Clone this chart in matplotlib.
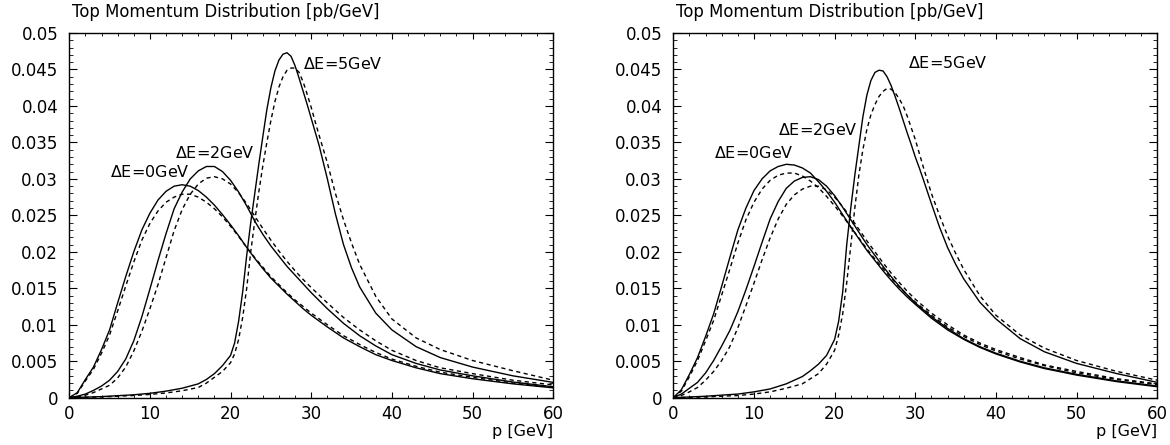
import numpy as np
import matplotlib
import matplotlib.pyplot as plt
from matplotlib.ticker import MultipleLocator, FuncFormatter

matplotlib.use("Agg")

plt.rcParams["font.family"] = ["DejaVu Sans"]

# momentum grids [GeV]
p_a = [0, 1, 2, 3, 4, 5, 6, 7, 8, 9, 10, 11, 12, 13, 14, 15, 16, 17, 18, 19, 20,
       21, 22, 23, 24, 25, 26, 27, 28, 29, 30, 32, 34, 36, 38, 40, 43, 46, 50, 55, 60]
p_b = [0, 4, 8, 10, 12, 14, 16, 17, 18, 19, 20, 20.5, 21, 21.5, 22, 22.5, 23, 23.5,
       24, 24.5, 25, 25.5, 26, 26.5, 27, 27.5, 28, 28.5, 29, 29.5, 30, 30.5, 31, 32,
       33, 34, 35, 36, 38, 40, 43, 46, 50, 55, 60]

# left panel, values in 1e-3 pb/GeV (solid / dashed)
left_de0_solid = [0, 0.7, 2.5, 4.2, 6.6, 9.3, 13.0, 16.6, 20.0, 23.0, 25.3, 27.1, 28.3, 29.0,
                  29.2, 29.0, 28.4, 27.5, 26.4, 25.1, 23.7, 22.2, 20.6, 19.1, 17.7, 16.4,
                  15.3, 14.2, 13.2, 12.2, 11.3, 9.7, 8.2, 7.0, 5.9, 5.1, 4.1, 3.3, 2.6, 1.9, 1.35]
left_de0_dash = [0, 0.6, 2.3, 3.9, 6.1, 8.6, 11.9, 15.3, 18.6, 21.6, 23.9, 25.6, 26.8, 27.5,
                 27.9, 27.9, 27.5, 26.8, 25.9, 24.8, 23.5, 22.1, 20.6, 19.2, 17.9, 16.6,
                 15.5, 14.4, 13.4, 12.5, 11.6, 10.0, 8.5, 7.3, 6.2, 5.3, 4.3, 3.5, 2.8, 2.0, 1.45]
left_de2_solid = [0, 0.2, 0.5, 1.0, 1.6, 2.4, 3.6, 5.3, 7.8, 11.1, 14.9, 18.8, 22.5, 25.9,
                  28.2, 30.0, 31.1, 31.7, 31.7, 31.0, 29.8, 28.2, 26.3, 24.2, 22.4, 20.8,
                  19.4, 18.0, 16.8, 15.6, 14.4, 12.2, 10.2, 8.5, 7.1, 5.9, 4.7, 3.8, 3.0, 2.15, 1.5]
left_de2_dash = [0, 0.1, 0.35, 0.7, 1.2, 1.7, 2.7, 4.2, 6.4, 9.1, 12.2, 15.5, 19.2, 22.9,
                 25.8, 27.9, 29.3, 30.1, 30.3, 30.0, 29.3, 28.1, 26.6, 24.9, 23.2, 21.6,
                 20.1, 18.7, 17.4, 16.2, 15.1, 13.0, 11.0, 9.3, 7.8, 6.5, 5.1, 4.1, 3.3, 2.4, 1.75]
left_de5_solid = [0, 0.15, 0.4, 0.6, 0.9, 1.3, 1.9, 2.5, 3.3, 4.4, 5.8, 7.5, 10.5, 14.5,
                  19.5, 24.0, 28.0, 32.0, 35.8, 39.5, 42.5, 44.8, 46.3, 47.1, 47.3, 46.8,
                  45.5, 43.8, 42.0, 40.2, 38.3, 36.4, 34.5, 30.0, 25.2, 21.0, 17.8, 15.2,
                  11.6, 9.3, 7.0, 5.5, 4.2, 3.0, 2.1]
left_de5_dash = [0, 0.1, 0.3, 0.45, 0.65, 0.95, 1.4, 2.0, 2.8, 3.6, 4.8, 6.0, 8.0, 11.0,
                 15.0, 20.0, 24.2, 28.2, 31.8, 35.0, 38.0, 40.6, 42.6, 44.0, 44.9, 45.2,
                 45.2, 44.6, 43.3, 41.6, 39.8, 37.8, 35.9, 32.2, 28.0, 24.4, 21.2, 18.3,
                 13.9, 10.8, 8.2, 6.6, 5.1, 3.7, 2.4]

# right panel
right_de0_solid = [0, 1.1, 3.2, 5.5, 8.4, 11.5, 15.3, 19.2, 23.0, 26.0, 28.4, 30.0, 31.1, 31.7,
                   32.0, 31.9, 31.5, 30.8, 29.6, 28.3, 26.8, 25.1, 23.4, 21.8, 20.2, 18.8,
                   17.4, 16.1, 14.9, 13.8, 12.8, 10.9, 9.3, 8.0, 6.9, 6.0, 4.9, 4.0, 3.1, 2.2, 1.5]
right_de0_dash = [0, 0.9, 2.9, 5.1, 7.8, 10.6, 14.1, 17.6, 21.2, 24.4, 26.8, 28.6, 29.8, 30.5,
                  30.8, 30.8, 30.4, 29.7, 28.8, 27.6, 26.3, 24.9, 23.4, 21.9, 20.4, 19.0,
                  17.7, 16.4, 15.2, 14.1, 13.1, 11.3, 9.7, 8.4, 7.3, 6.4, 5.3, 4.4, 3.4, 2.5, 1.8]
right_de2_solid = [0, 0.5, 1.3, 2.1, 3.4, 5.1, 7.1, 9.2, 11.8, 14.8, 18.0, 21.3, 24.5, 26.9,
                   28.7, 29.7, 30.2, 30.3, 29.9, 29.0, 27.7, 26.1, 24.4, 22.7, 21.0, 19.5,
                   18.0, 16.6, 15.3, 14.1, 13.0, 11.1, 9.5, 8.1, 7.0, 6.1, 5.0, 4.1, 3.2, 2.3, 1.6]
right_de2_dash = [0, 0.3, 0.8, 1.4, 2.4, 3.6, 5.1, 7.0, 9.6, 12.6, 15.7, 18.9, 21.9, 24.5,
                  26.5, 27.8, 28.6, 29.0, 29.0, 28.5, 27.5, 26.2, 24.7, 23.1, 21.5, 20.0,
                  18.5, 17.1, 15.8, 14.6, 13.5, 11.6, 10.0, 8.6, 7.5, 6.6, 5.5, 4.5, 3.6, 2.6, 1.9]
right_de5_solid = [0, 0.2, 0.5, 0.8, 1.2, 1.9, 2.9, 3.7, 4.6, 5.8, 8.0, 10.5, 14.5, 21.0,
                   26.0, 30.5, 34.5, 38.5, 41.5, 43.5, 44.6, 44.9, 44.8, 44.0, 42.8, 41.3,
                   39.7, 38.0, 36.3, 34.7, 33.0, 31.5, 29.9, 26.6, 23.4, 20.6, 18.3, 16.3,
                   13.1, 10.8, 8.1, 6.3, 4.7, 3.3, 2.1]
right_de5_dash = [0, 0.1, 0.3, 0.5, 0.8, 1.3, 1.9, 2.6, 3.3, 4.6, 6.5, 8.6, 11.5, 15.8,
                  20.8, 26.0, 30.5, 34.0, 36.8, 38.8, 40.2, 41.3, 42.0, 42.4, 42.3, 41.8,
                  41.0, 40.0, 38.6, 37.0, 35.4, 33.5, 31.6, 28.0, 25.0, 22.2, 19.8, 17.6,
                  14.0, 11.3, 8.6, 6.8, 5.1, 3.6, 2.4]

labels = ["$\\Delta$E=0GeV", "$\\Delta$E=2GeV", "$\\Delta$E=5GeV"]
left_label_pos = [(5.0, 0.0310), (13.1, 0.0336), (29.0, 0.0458)]
right_label_pos = [(5.0, 0.0335), (13.0, 0.0367), (29.05, 0.0459)]

panels = [
    ([(p_a, left_de0_solid, left_de0_dash), (p_a, left_de2_solid, left_de2_dash),
      (p_b, left_de5_solid, left_de5_dash)], left_label_pos, 0.0592),
    ([(p_a, right_de0_solid, right_de0_dash), (p_a, right_de2_solid, right_de2_dash),
      (p_b, right_de5_solid, right_de5_dash)], right_label_pos, 0.5755),
]

fig = plt.figure(figsize=(11.7, 4.45), dpi=100)

for curves, label_pos, x0 in panels:
    ax = fig.add_axes([x0, 0.1063, 0.4136, 0.8195])
    for p, solid, dash in curves:
        ax.plot(p, np.array(solid) * 1e-3, color="black", lw=1.0)
        ax.plot(p, np.array(dash) * 1e-3, color="black", lw=1.0, linestyle=(0, (3, 2.5)))
    for text, (lx, ly) in zip(labels, label_pos):
        ax.text(lx, ly, text, fontsize=11.5, ha="left", va="center")

    ax.set_xlim(0, 60)
    ax.set_ylim(0, 0.05)
    ax.xaxis.set_major_locator(MultipleLocator(10))
    ax.xaxis.set_minor_locator(MultipleLocator(2))
    ax.yaxis.set_major_locator(MultipleLocator(0.005))
    ax.yaxis.set_minor_locator(MultipleLocator(0.001))
    ax.yaxis.set_major_formatter(FuncFormatter(lambda v, _: "0" if abs(v) < 1e-12 else f"{v:g}"))
    ax.tick_params(which="both", direction="in", top=True, right=True, labelsize=12)
    ax.tick_params(axis="x", which="major", length=4.5, pad=5)
    ax.tick_params(axis="x", which="minor", length=2.2)
    ax.tick_params(axis="y", which="major", length=5.5, pad=8)
    ax.tick_params(axis="y", which="minor", length=2.8)
    for s in ax.spines.values():
        s.set_linewidth(1.0)

    ax.text(0.006, 1.058, "Top Momentum Distribution [pb/GeV]", transform=ax.transAxes,
            fontsize=11.9, ha="left", va="center")
    ax.text(1.0, -0.093, "p [GeV]", transform=ax.transAxes, fontsize=11.5, ha="right", va="center")

fig.savefig("out.png", dpi=100)
